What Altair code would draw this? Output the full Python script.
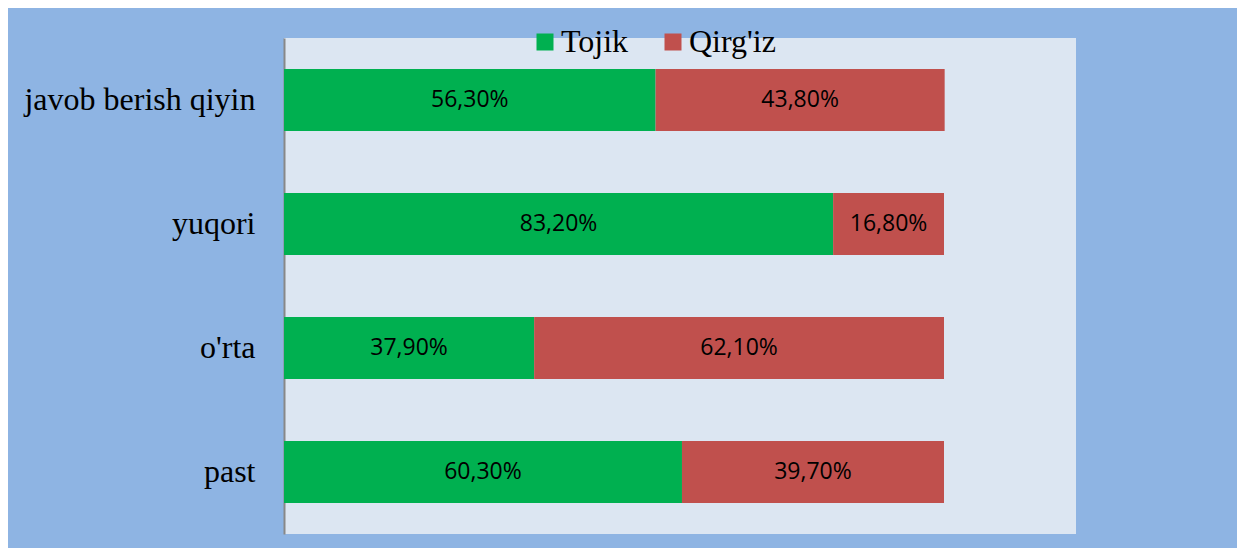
import altair as alt
import pandas as pd

categories = ["javob berish qiyin", "yuqori", "o'rta", "past"]
series = ["Tojik", "Qirg'iz"]
tojik = [56.3, 83.2, 37.9, 60.3]
qirgiz = [43.8, 16.8, 62.1, 39.7]

rows = []
for i, c in enumerate(categories):
    for j, (s, v) in enumerate(zip(series, [tojik[i], qirgiz[i]])):
        rows.append({"cat": c, "series": s, "v": v, "ord": j,
                     "label": f"{v:.2f}".replace(".", ",") + "%"})
df = pd.DataFrame(rows)

base = alt.Chart(df).transform_stack(
    stack="v", groupby=["cat"], sort=[alt.SortField("ord", order="ascending")],
    as_=["x0", "x1"]
).transform_calculate(mid="(datum.x0 + datum.x1) / 2")

y_enc = alt.Y("cat:N", sort=categories, title=None,
              scale=alt.Scale(paddingInner=0.5, paddingOuter=0.25),
              axis=alt.Axis(labelFont="Liberation Serif", labelFontSize=32,
                            labelColor="#000000", labelPadding=29, ticks=False,
                            labelLimit=0,
                            domainColor="#888888", domainWidth=2, grid=False))

bars = base.mark_bar().encode(
    x=alt.X("x0:Q", scale=alt.Scale(domain=[0, 120]), axis=None),
    x2="x1:Q",
    y=y_enc,
    color=alt.Color("series:N", sort=series,
                    scale=alt.Scale(domain=series, range=["#00B050", "#C0504D"]),
                    legend=alt.Legend(title=None, orient="none", direction="horizontal",
                                      legendX=245, legendY=-12,
                                      symbolType="square", symbolSize=289,
                                      symbolStrokeWidth=0, symbolOpacity=1,
                                      labelFont="Liberation Serif", labelFontSize=32,
                                      labelColor="#000000", labelOffset=0,
                                      columnPadding=28, padding=0)),
)

texts = base.mark_text(font="Open Sans", fontSize=23, color="#000000").encode(
    x=alt.X("mid:Q"),
    y=alt.Y("cat:N", sort=categories),
    text="label:N",
)

chart = alt.layer(bars, texts).properties(
    width=792, height=496,
    background="#8EB4E3",
    padding={"left": 276, "top": 30, "right": 161, "bottom": 14},
    autosize=alt.AutoSizeParams(type="none"),
).configure_view(fill="#DCE6F2", stroke=None)

chart.save("out.html", embed_options={"renderer": "svg", "actions": False})
